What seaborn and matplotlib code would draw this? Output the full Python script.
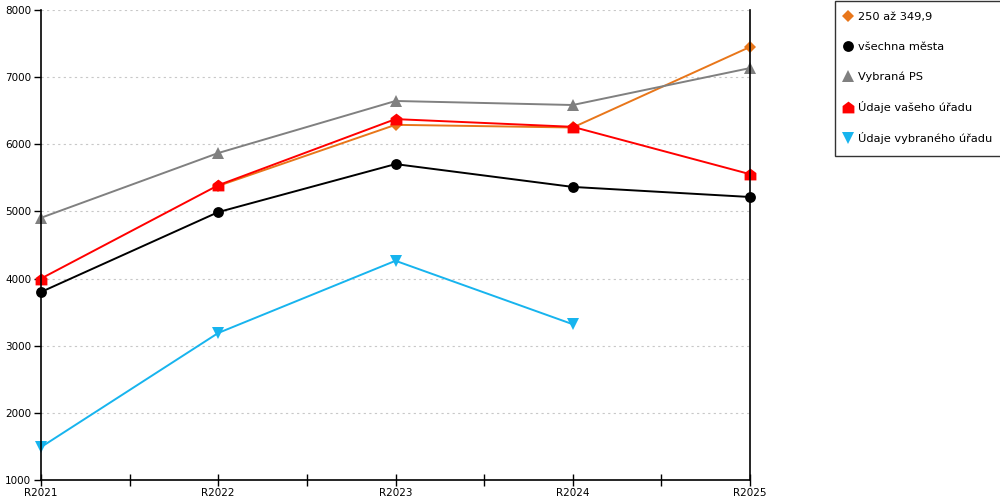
import numpy as np
import pandas as pd
import seaborn as sns
import matplotlib
matplotlib.use("Agg")
import matplotlib.pyplot as plt
from matplotlib.lines import Line2D
from matplotlib.path import Path
from matplotlib.ticker import MultipleLocator, FixedLocator

categories = ["R2021", "R2022", "R2023", "R2024", "R2025"]
s_250 = [np.nan, 5380, 6290, 6250, 7450]
s_vsechna = [3800, 4990, 5705, 5365, 5215]
s_ps = [4905, 5870, 6645, 6585, 7135]
s_vas = [4000, 5390, 6375, 6260, 5555]
s_vybr = [1490, 3190, 4265, 3320, np.nan]

names = ["250 až 349,9", "všechna města", "Vybraná PS", "Údaje vašeho úřadu", "Údaje vybraného úřadu"]
values = [s_250, s_vsechna, s_ps, s_vas, s_vybr]

house = Path([(-1, -1), (1, -1), (1, 0.25), (0, 1), (-1, 0.25), (-1, -1)],
             [Path.MOVETO, Path.LINETO, Path.LINETO, Path.LINETO, Path.LINETO, Path.CLOSEPOLY])

styles = {
    "250 až 349,9": dict(color="#E8761A", marker="D", ms=6.3),
    "všechna města": dict(color="#000000", marker="o", ms=7.8),
    "Vybraná PS": dict(color="#808080", marker="^", ms=8.5),
    "Údaje vašeho úřadu": dict(color="#FF0000", marker=house, ms=8.5),
    "Údaje vybraného úřadu": dict(color="#17B4EE", marker="v", ms=8.5),
}

sns.set_theme(style="white")
plt.rcParams["font.family"] = ["DejaVu Sans"]
plt.rcParams["text.color"] = "black"
plt.rcParams["xtick.color"] = "black"
plt.rcParams["ytick.color"] = "black"

fig = plt.figure(figsize=(10, 5), dpi=100)
ax = fig.add_axes([0.041, 0.04, 0.709, 0.94])

idx = list(range(len(categories)))
for name, vals in zip(names, values):
    st = styles[name]
    df = pd.DataFrame({"x": idx, "y": vals}).dropna()
    sns.lineplot(data=df, x="x", y="y", ax=ax, color=st["color"], marker=st["marker"],
                 markersize=st["ms"], markeredgewidth=0, linewidth=1.4, legend=False,
                 clip_on=False)

ax.set_xlim(0, len(categories) - 1)
ax.set_ylim(1000, 8000)
ax.set_xlabel("")
ax.set_ylabel("")
ax.xaxis.set_major_locator(FixedLocator(idx))
ax.set_xticklabels(categories)
ax.xaxis.set_minor_locator(MultipleLocator(0.5))
ax.yaxis.set_major_locator(MultipleLocator(1000))
ax.tick_params(axis="x", which="both", direction="inout", length=9, width=1, color="black",
               labelsize=7.5, pad=1, bottom=True, labelcolor="black")
ax.tick_params(axis="y", which="major", direction="out", length=5, width=1, color="black",
               labelsize=7.5, pad=2, left=True, labelcolor="black")
ax.grid(axis="y", color="#C8C8C8", linestyle=(0, (2, 3)), linewidth=0.8)
ax.grid(axis="x", visible=False)
ax.set_axisbelow(True)
for side in ["left", "bottom", "right"]:
    ax.spines[side].set_visible(True)
    ax.spines[side].set_color("black")
    ax.spines[side].set_linewidth(1.2)
ax.spines["top"].set_visible(False)

handles = [Line2D([], [], linestyle="none", color=styles[n]["color"], marker=styles[n]["marker"],
                  markersize=styles[n]["ms"] * 1.0, markeredgewidth=0) for n in names]
leg = fig.legend(handles, names, loc="upper left", bbox_to_anchor=(0.835, 0.998),
                 fontsize=8.2, frameon=True, fancybox=False, edgecolor="black",
                 labelspacing=1.7, handlelength=0.2, handletextpad=0.85, borderpad=1.0,
                 borderaxespad=0)
leg.get_frame().set_linewidth(1.0)
for t in leg.get_texts():
    t.set_color("black")

fig.savefig("out.png", dpi=100, facecolor="white")
